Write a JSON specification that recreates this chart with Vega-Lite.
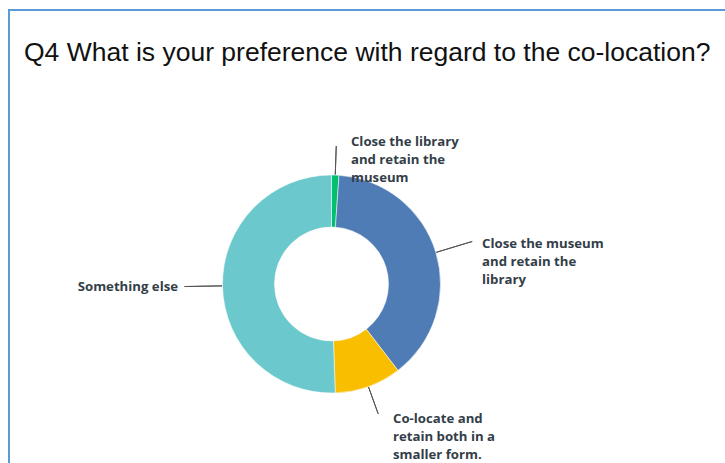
{
  "$schema": "https://vega.github.io/schema/vega-lite/v6.json",
  "width": 716,
  "height": 453,
  "autosize": {"type": "none"},
  "padding": {"left": 9, "top": 10, "right": 0, "bottom": 0},
  "background": "white",
  "title": {
    "text": "Q4 What is your preference with regard to the co-location?",
    "anchor": "start",
    "frame": "group",
    "orient": "top",
    "offset": -78,
    "dx": 15,
    "font": "Liberation Sans",
    "fontSize": 26.5,
    "fontWeight": "normal",
    "color": "#111111",
    "baseline": "alphabetic"
  },
  "config": {
    "view": {"stroke": null}
  },
  "data": {
    "values": [
      {"answer": "Close the library and retain the museum", "label": "Close the library\nand retain the\nmuseum", "count": 1},
      {"answer": "Close the museum and retain the library", "label": "Close the museum\nand retain the\nlibrary", "count": 35},
      {"answer": "Co-locate and retain both in a smaller form.", "label": "Co-locate and\nretain both in a\nsmaller form.", "count": 9},
      {"answer": "Something else", "label": "Something else", "count": 46}
    ]
  },
  "layer": [
    {
      "data": {"values": [{"frame": "border"}]},
      "mark": {"type": "rect", "fillOpacity": 0, "stroke": "#5b9bd5", "strokeWidth": 2, "strokeDash": [716, 1169, 453]},
      "encoding": {}
    },
    {
      "mark": {"type": "arc", "x": 322.5, "y": 274, "outerRadius": 109, "innerRadius": 57, "stroke": "white", "strokeWidth": 0.5},
      "encoding": {
        "theta": {"field": "count", "type": "quantitative", "stack": true},
        "order": {"field": "answer", "type": "ordinal", "sort": "ascending"},
        "color": {
          "field": "answer",
          "type": "nominal",
          "scale": {
            "domain": ["Close the library and retain the museum", "Close the museum and retain the library", "Co-locate and retain both in a smaller form.", "Something else"],
            "range": ["#00bf6f", "#507cb6", "#f9be00", "#6bc8cd"]
          },
          "legend": null
        }
      }
    },
    {
      "transform": [
        {"stack": "count", "groupby": [], "sort": [{"field": "answer", "order": "ascending"}], "as": ["s0", "s1"]},
        {"fold": ["s0", "s1"], "as": ["edge", "pos"]},
        {"aggregate": [{"op": "mean", "field": "pos", "as": "mid"}], "groupby": ["answer"]},
        {"filter": {"field": "answer", "oneOf": ["Close the museum and retain the library", "Something else"]}}
      ],
      "mark": {"type": "arc", "x": 322.5, "y": 274, "innerRadius": 109.5, "outerRadius": 147, "fillOpacity": 0, "stroke": "#555555", "strokeWidth": 1},
      "encoding": {
        "theta": {"field": "mid", "type": "quantitative", "stack": null},
        "theta2": {"field": "mid"}
      }
    },
    {
      "transform": [
        {"stack": "count", "groupby": [], "sort": [{"field": "answer", "order": "ascending"}], "as": ["s0", "s1"]},
        {"fold": ["s0", "s1"], "as": ["edge", "pos"]},
        {"aggregate": [{"op": "mean", "field": "pos", "as": "mid"}], "groupby": ["answer"]},
        {"filter": {"field": "answer", "oneOf": ["Close the library and retain the museum", "Co-locate and retain both in a smaller form."]}}
      ],
      "mark": {"type": "arc", "x": 322.5, "y": 274, "innerRadius": 109.5, "outerRadius": 138, "fillOpacity": 0, "stroke": "#555555", "strokeWidth": 1},
      "encoding": {
        "theta": {"field": "mid", "type": "quantitative", "stack": null},
        "theta2": {"field": "mid"}
      }
    },
    {
      "mark": {"type": "text", "x": 322.5, "y": 274, "radius": 109, "align": "left", "baseline": "alphabetic", "dx": 15.7, "dy": -29.1, "lineBreak": "\n", "lineHeight": 18, "font": "Open Sans", "fontSize": 13.2, "fontWeight": "bold", "color": "#333e48"},
      "encoding": {
        "theta": {"field": "count", "type": "quantitative", "stack": true},
        "order": {"field": "answer", "type": "ordinal", "sort": "ascending"},
        "detail": {"field": "answer", "type": "nominal"},
        "text": {"condition": {"test": "datum.answer === 'Close the library and retain the museum'", "field": "label"}, "value": ""}
      }
    },
    {
      "mark": {"type": "text", "x": 322.5, "y": 274, "radius": 109, "align": "left", "baseline": "alphabetic", "dx": 46.2, "dy": -4.5, "lineBreak": "\n", "lineHeight": 18, "font": "Open Sans", "fontSize": 13.2, "fontWeight": "bold", "color": "#333e48"},
      "encoding": {
        "theta": {"field": "count", "type": "quantitative", "stack": true},
        "order": {"field": "answer", "type": "ordinal", "sort": "ascending"},
        "detail": {"field": "answer", "type": "nominal"},
        "text": {"condition": {"test": "datum.answer === 'Close the museum and retain the library'", "field": "label"}, "value": ""}
      }
    },
    {
      "mark": {"type": "text", "x": 322.5, "y": 274, "radius": 109, "align": "left", "baseline": "alphabetic", "dx": 24.6, "dy": 36.4, "lineBreak": "\n", "lineHeight": 18, "font": "Open Sans", "fontSize": 13.2, "fontWeight": "bold", "color": "#333e48"},
      "encoding": {
        "theta": {"field": "count", "type": "quantitative", "stack": true},
        "order": {"field": "answer", "type": "ordinal", "sort": "ascending"},
        "detail": {"field": "answer", "type": "nominal"},
        "text": {"condition": {"test": "datum.answer === 'Co-locate and retain both in a smaller form.'", "field": "label"}, "value": ""}
      }
    },
    {
      "mark": {"type": "text", "x": 322.5, "y": 274, "radius": 109, "align": "right", "baseline": "alphabetic", "dx": -44.5, "dy": 5.6, "lineBreak": "\n", "lineHeight": 18, "font": "Open Sans", "fontSize": 13.2, "fontWeight": "bold", "color": "#333e48"},
      "encoding": {
        "theta": {"field": "count", "type": "quantitative", "stack": true},
        "order": {"field": "answer", "type": "ordinal", "sort": "ascending"},
        "detail": {"field": "answer", "type": "nominal"},
        "text": {"condition": {"test": "datum.answer === 'Something else'", "field": "label"}, "value": ""}
      }
    }
  ]
}
